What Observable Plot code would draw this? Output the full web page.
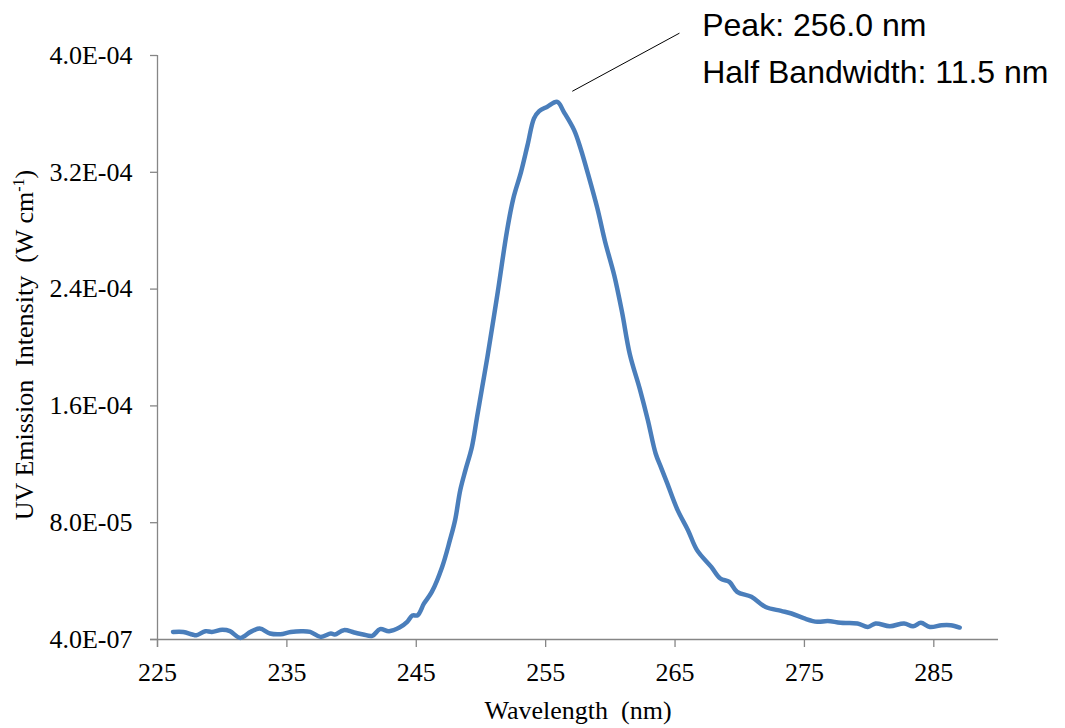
<!DOCTYPE html>
<html>
<head>
<meta charset="utf-8">
<script src="https://cdn.jsdelivr.net/npm/d3@7"></script>
<script src="https://cdn.jsdelivr.net/npm/@observablehq/plot@0.6"></script>
<style>
  body { margin: 0; background: #fff; }
  #chart svg { display: block; }
</style>
</head>
<body>
<div id="chart"></div>
<script>
// ---- Data ----
const wavelength = [
  226.2, 227.0, 227.7, 228.0, 228.7, 229.2, 230.0, 230.6, 231.4, 232.2,
  232.9, 233.7, 234.5, 235.3, 236.2, 236.8, 237.6, 238.4, 238.7, 239.4,
  240.2, 240.9, 241.6, 242.2, 242.9, 243.7, 244.3, 244.7, 245.1, 245.6,
  246.2, 247.0, 247.6, 248.0, 248.4, 248.8, 249.3, 249.7, 250.1, 250.5,
  251.3, 252.0, 252.5, 253.1, 253.6, 254.1, 254.5, 255.1, 255.9, 256.4,
  257.2, 257.7, 258.3, 259.0, 259.6, 260.3, 260.9, 261.5, 262.3, 262.9,
  263.5, 263.9, 264.4, 265.2, 266.0, 266.7, 267.8, 268.5, 269.2, 269.8,
  270.9, 272.0, 273.2, 274.0, 275.0, 276.0, 276.8, 277.8, 279.1, 279.9,
  280.5, 281.6, 282.7, 283.4, 284.0, 284.7, 285.6, 286.3, 287.0
];
const intensity = [
  5.6e-6, 5.6e-6, 3.8e-6, 3.3e-6, 6.1e-6, 5.6e-6, 7.0e-6, 6.1e-6, 1.5e-6, 5.6e-6,
  7.9e-6, 4.5e-6, 4.0e-6, 5.6e-6, 6.1e-6, 5.6e-6, 2.2e-6, 4.5e-6, 3.8e-6, 6.8e-6,
  5.2e-6, 3.8e-6, 2.9e-6, 7.5e-6, 6.1e-6, 8.6e-6, 12.5e-6, 16.8e-6, 17.0e-6, 25.1e-6,
  33.0e-6, 50.1e-6, 68.4e-6, 82.1e-6, 102.7e-6, 116.4e-6, 132.3e-6, 152.9e-6, 173.4e-6, 194.0e-6,
  238.5e-6, 279.6e-6, 302.5e-6, 320.7e-6, 339.0e-6, 357.3e-6, 362.3e-6, 365.2e-6, 368.6e-6, 361.8e-6,
  349.3e-6, 336.7e-6, 318.4e-6, 295.6e-6, 272.7e-6, 249.9e-6, 224.8e-6, 196.0e-6, 171.2e-6, 150.6e-6,
  127.8e-6, 118.6e-6, 107.3e-6, 89.0e-6, 75.3e-6, 61.6e-6, 50.1e-6, 42.2e-6, 39.9e-6, 33.0e-6,
  29.6e-6, 22.7e-6, 20.0e-6, 18.2e-6, 14.8e-6, 12.5e-6, 13.1e-6, 11.8e-6, 11.4e-6, 9.0e-6,
  11.4e-6, 9.5e-6, 11.4e-6, 9.5e-6, 11.8e-6, 9.0e-6, 10.2e-6, 10.2e-6, 8.6e-6
];
const xTicks = [225, 235, 245, 255, 265, 275, 285];
const yTicks = [4e-7, 8.04e-5, 1.604e-4, 2.404e-4, 3.204e-4, 4.004e-4];
const annotationLines = ["Peak: 256.0 nm", "Half Bandwidth: 11.5 nm"];
const xTitle = "Wavelength  (nm)";
const yTitleMain = "UV Emission  Intensity  (W cm";
const yTitleSup = "-1";
const yTitleEnd = ")";

// ---- Build ----
const data = wavelength.map((w, i) => ({w, v: intensity[i]}));
const fmtE = d => {
  const [m, e] = d.toExponential(1).split("e");
  const n = +e;
  return m + "E" + (n < 0 ? "-" : "+") + String(Math.abs(n)).padStart(2, "0");
};
const serif = "'Liberation Serif', 'Times New Roman', serif";
const sans = "'Liberation Sans', Arial, sans-serif";
const axisGray = "#868686";

const plot = Plot.plot({
  width: 1065,
  height: 728,
  marginLeft: 157,
  marginRight: 67,
  marginTop: 55,
  marginBottom: 89,
  style: {fontFamily: serif, fontSize: "26px", color: "#000", background: "#fff", overflow: "visible"},
  x: {domain: [225, 290]},
  y: {domain: [4e-7, 4.004e-4]},
  marks: [
    Plot.ruleY([4e-7], {stroke: axisGray, strokeWidth: 1.3, insetLeft: -7}),
    Plot.ruleX([225], {stroke: axisGray, strokeWidth: 1.3, insetBottom: -8}),
    Plot.axisX({ticks: xTicks, tickFormat: d => String(d), tickSize: 8, tickPadding: 15,
      stroke: axisGray, strokeWidth: 1.3, fill: "#000", fontSize: 26, label: null}),
    Plot.axisY({ticks: yTicks, tickFormat: fmtE, tickSize: 7, tickPadding: 18,
      stroke: axisGray, strokeWidth: 1.3, fill: "#000", fontSize: 26, label: null}),
    Plot.line(data, {x: "w", y: "v", curve: "catmull-rom", stroke: "#4A7EBB", strokeWidth: 4.5,
      strokeLinejoin: "round", strokeLinecap: "round"}),
    // leader line for annotation
    Plot.link([0], {x1: 257.06, y1: 3.759e-4, x2: 265.34, y2: 4.157e-4, stroke: "#000", strokeWidth: 1}),
    Plot.text([annotationLines.join("\n")], {x: 267.1, y: 4.366e-4, text: d => d,
      textAnchor: "start", lineAnchor: "top", lineHeight: 1.47,
      fontFamily: sans, fontSize: 32, fill: "#000"})
  ]
});

const svg = d3.select(plot);
svg.append("text")
  .attr("transform", "translate(578,719)")
  .attr("text-anchor", "middle")
  .attr("font-family", serif)
  .attr("font-size", 26)
  .attr("fill", "#000")
  .style("white-space", "pre")
  .text(xTitle);

const yt = svg.append("text")
  .attr("transform", "translate(33,345) rotate(-90)")
  .attr("text-anchor", "middle")
  .attr("font-family", serif)
  .attr("font-size", 26)
  .attr("fill", "#000")
  .style("white-space", "pre");
yt.append("tspan").text(yTitleMain);
yt.append("tspan").attr("dy", -9).attr("font-size", 16).text(yTitleSup);
yt.append("tspan").attr("dy", 9).text(yTitleEnd);

document.getElementById("chart").appendChild(plot);
</script>
</body>
</html>
